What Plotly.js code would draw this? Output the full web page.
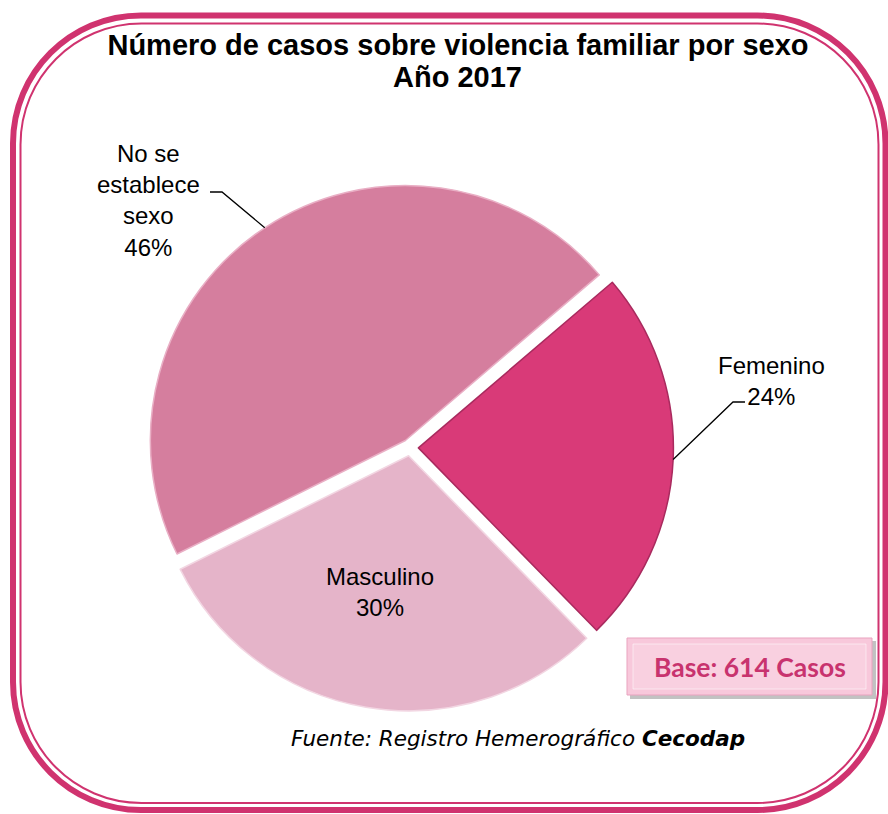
<!DOCTYPE html>
<html><head><meta charset="utf-8">
<script src="https://cdn.plot.ly/plotly-3.0.1.min.js"></script>
<style>html,body{margin:0;padding:0;background:#fff;}#chart{width:888px;height:814px;}</style>
</head><body><div id="chart"></div>
<script>
// ---- data ----
const categories = ['Femenino', 'Masculino', 'No se establece sexo'];
const labelText = ['Femenino', 'Masculino', 'No se<br>establece<br>sexo'];
const casos = [147, 184, 283];
const sliceColors = ['#D93A78', '#E5B4C9', '#D57E9E'];
const edgeColors = ['#A92A5E', '#F2D6E2', '#E9AFC5'];
const titleLines = ['Número de casos sobre violencia familiar por sexo', 'Año 2017'];
const fuenteText = 'Fuente: Registro Hemerográfico ';
const fuenteBold = 'Cecodap';

// ---- geometry helpers ----
const W = 888, H = 814;
const px = x => x / W, py = y => 1 - y / H;
const CX = 410, CY = 447.5, R = 255, PULL = 0.033, ROT = 49.5;
const half = R * (1 + PULL);
const domain = {x: [px(CX - half), px(CX + half)], y: [py(CY + half), py(CY - half)]};

const total = casos.reduce((a, b) => a + b, 0);
const pct = casos.map(v => Math.round(v / total * 100) + '%');
let acc = ROT; const mid = [];
casos.forEach(v => { const a = v / total * 360; mid.push(acc + a / 2); acc += a; });
function radialPoint(i, f) {
  const t = mid[i] * Math.PI / 180, d = R * PULL + R * f;
  return [CX + d * Math.sin(t), CY - d * Math.cos(t)];
}
function P(x, y) { return px(x).toFixed(5) + ',' + py(y).toFixed(5); }
function roundRect(x0, y0, x1, y1, r) {
  const k = 0.5523 * r;
  return 'M' + P(x0 + r, y0) + ' L' + P(x1 - r, y0) +
    ' C' + P(x1 - r + k, y0) + ' ' + P(x1, y0 + r - k) + ' ' + P(x1, y0 + r) +
    ' L' + P(x1, y1 - r) +
    ' C' + P(x1, y1 - r + k) + ' ' + P(x1 - r + k, y1) + ' ' + P(x1 - r, y1) +
    ' L' + P(x0 + r, y1) +
    ' C' + P(x0 + r - k, y1) + ' ' + P(x0, y1 - r + k) + ' ' + P(x0, y1 - r) +
    ' L' + P(x0, y0 + r) +
    ' C' + P(x0, y0 + r - k) + ' ' + P(x0 + r - k, y0) + ' ' + P(x0 + r, y0) + ' Z';
}

const pink = '#D0336F';
const shapes = [
  {type: 'path', xref: 'paper', yref: 'paper', path: roundRect(13, 15.5, 885.5, 810, 128), line: {color: pink, width: 6}},
  {type: 'path', xref: 'paper', yref: 'paper', path: roundRect(20.5, 23.5, 878.5, 803, 121), line: {color: pink, width: 2}},
  // base box shadow + box
  {type: 'rect', xref: 'paper', yref: 'paper', x0: px(630), x1: px(876), y0: py(641), y1: py(699), fillcolor: 'rgba(120,120,120,0.45)', line: {width: 0}},
  {type: 'rect', xref: 'paper', yref: 'paper', x0: px(627), x1: px(872), y0: py(638), y1: py(695), fillcolor: '#F8C8DB', line: {color: '#E9A3BF', width: 1}},
  {type: 'rect', xref: 'paper', yref: 'paper', x0: px(633), x1: px(866), y0: py(644), y1: py(689), fillcolor: 'rgba(255,255,255,0.15)', line: {color: 'rgba(255,255,255,0.5)', width: 1}}
];

// leader lines (label elbow -> slice edge midpoint)
const leaders = [
  {i: 0, elbow: [[745, 402], [733, 402]]},
  {i: 2, elbow: [[210, 192], [222, 192]]}
];
leaders.forEach(l => {
  const e = radialPoint(l.i, 1);
  shapes.push({type: 'path', xref: 'paper', yref: 'paper',
    path: 'M' + P(l.elbow[0][0], l.elbow[0][1]) + ' L' + P(l.elbow[1][0], l.elbow[1][1]) + ' L' + P(e[0], e[1]),
    line: {color: '#000', width: 1.3}});
});

const labelPos = [[771, 381], [380, 592], [148, 201]];
const labelFont = {family: 'Liberation Sans, Arial, sans-serif', size: 24, color: '#000'};
const annotations = labelText.map((t, i) => ({
  xref: 'paper', yref: 'paper', x: px(labelPos[i][0]), y: py(labelPos[i][1]),
  xanchor: 'center', yanchor: 'middle', align: 'center', showarrow: false,
  text: t + '<br>' + pct[i], font: labelFont
}));
annotations.push({
  xref: 'paper', yref: 'paper', x: px(458), y: py(77), xanchor: 'center', yanchor: 'middle', showarrow: false,
  text: '<b>' + titleLines[1] + '</b>', font: {family: 'Liberation Sans, Arial, sans-serif', size: 29, color: '#000'}
});
annotations.push({
  xref: 'paper', yref: 'paper', x: px(749.5), y: py(666.5), xanchor: 'center', yanchor: 'middle', showarrow: false,
  text: '<b>Base: ' + total + ' Casos</b>', font: {family: 'Lato, Open Sans, sans-serif', size: 26.5, color: '#C8336E'}
});
annotations.push({
  xref: 'paper', yref: 'paper', x: px(517.5), y: py(738), xanchor: 'center', yanchor: 'middle', showarrow: false,
  text: '<i>' + fuenteText + '<b>' + fuenteBold + '</b></i>', font: {family: 'DejaVu Sans, Verdana, sans-serif', size: 21.5, color: '#000'}
});

const trace = {
  type: 'pie', labels: categories, values: casos, sort: false, direction: 'clockwise', rotation: ROT,
  pull: casos.map(() => PULL), domain: domain,
  marker: {colors: sliceColors, line: {color: edgeColors, width: 1.5}},
  textinfo: 'none', hoverinfo: 'skip', showlegend: false
};

const layout = {
  width: W, height: H, margin: {l: 0, r: 0, t: 0, b: 0},
  paper_bgcolor: '#fff', plot_bgcolor: '#fff', showlegend: false,
  title: {text: '<b>' + titleLines[0] + '</b>', xref: 'paper', x: px(458), xanchor: 'center',
    yref: 'container', y: py(35), yanchor: 'top',
    font: {family: 'Liberation Sans, Arial, sans-serif', size: 29, color: '#000'}},
  shapes: shapes, annotations: annotations
};
Plotly.newPlot('chart', [trace], layout, {displayModeBar: false, staticPlot: true});
</script></body></html>
